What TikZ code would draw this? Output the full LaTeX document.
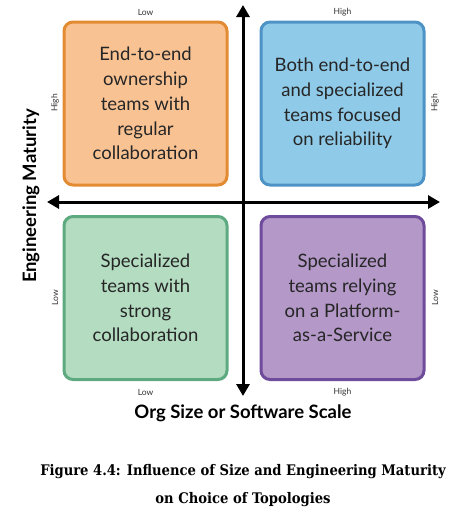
\documentclass[tikz,border=0pt]{standalone}
\usepackage{fontspec}
\setmainfont{Lato}
\newfontfamily\capfont{DejaVu Serif Condensed Bold}
\usetikzlibrary{arrows.meta}
\definecolor{orfill}{HTML}{F9C293}
\definecolor{ordraw}{HTML}{E38B32}
\definecolor{blfill}{HTML}{8FCBE8}
\definecolor{bldraw}{HTML}{4E93C6}
\definecolor{grfill}{HTML}{B3DCC1}
\definecolor{grdraw}{HTML}{5DAA80}
\definecolor{pufill}{HTML}{B498C8}
\definecolor{pudraw}{HTML}{6F4B9C}
\tikzset{
  quad/.style={rounded corners=9pt, line width=3pt, minimum width=163pt, minimum height=163pt,
    align=center, font=\fontsize{18.5}{24.8}\selectfont, text=black!85},
  axis/.style={line width=3pt, {Triangle[length=12pt,width=13pt]}-{Triangle[length=12pt,width=13pt]}},
  tick/.style={font=\fontsize{8.5}{10}\selectfont, text=black!80},
  axlabel/.style={font=\fontsize{18.5}{22}\selectfont\bfseries},
  caption/.style={font=\capfont\fontsize{14.6}{28}\selectfont, align=center}
}
\begin{document}
\begin{tikzpicture}[x=1pt,y=-1pt]
\useasboundingbox (0,0) rectangle (456,523);
% quadrants
\node[quad, fill=orfill, draw=ordraw] (tl) at (145.5,103.5) {End-to-end\\ownership\\teams with\\regular\\collaboration};
\node[quad, fill=blfill, draw=bldraw] (tr) at (342.5,103.5) {Both end-to-end\\and specialized\\teams focused\\on reliability};
\node[quad, fill=grfill, draw=grdraw] (bl) at (145.5,298) {Specialized\\teams with\\strong\\collaboration};
\node[quad, fill=pufill, draw=pudraw] (br) at (342.5,298) {Specialized\\teams relying\\on a Platform-\\as-a-Service};
% axes
\coordinate (top) at (243,5);
\coordinate (bottom) at (243,396);
\coordinate (left) at (47,202);
\coordinate (right) at (440,202);
\draw[axis] (bottom) -- (top);
\draw[axis] (left) -- (right);
% tick labels
\node[tick] (lowtop) at (145.5,12) {Low};
\node[tick] (hightop) at (342.5,12) {High};
\node[tick] (lowbot) at (145.5,392) {Low};
\node[tick] (highbot) at (342.5,392) {High};
\node[tick, rotate=90] (highleft) at (55,103) {High};
\node[tick, rotate=90] (lowleft) at (55,298) {Low};
\node[tick, rotate=90] (highright) at (435,103) {High};
\node[tick, rotate=90] (lowright) at (435,298) {Low};
% axis titles
\node[axlabel, rotate=90] (ylab) at (31,196) {Engineering Maturity};
\node[axlabel] (xlab) at (243,413) {Org Size or Software Scale};
% caption
\node[caption] (cap) at (243,486) {Figure 4.4: Influence of Size and Engineering Maturity\\on Choice of Topologies};
\end{tikzpicture}
\end{document}
